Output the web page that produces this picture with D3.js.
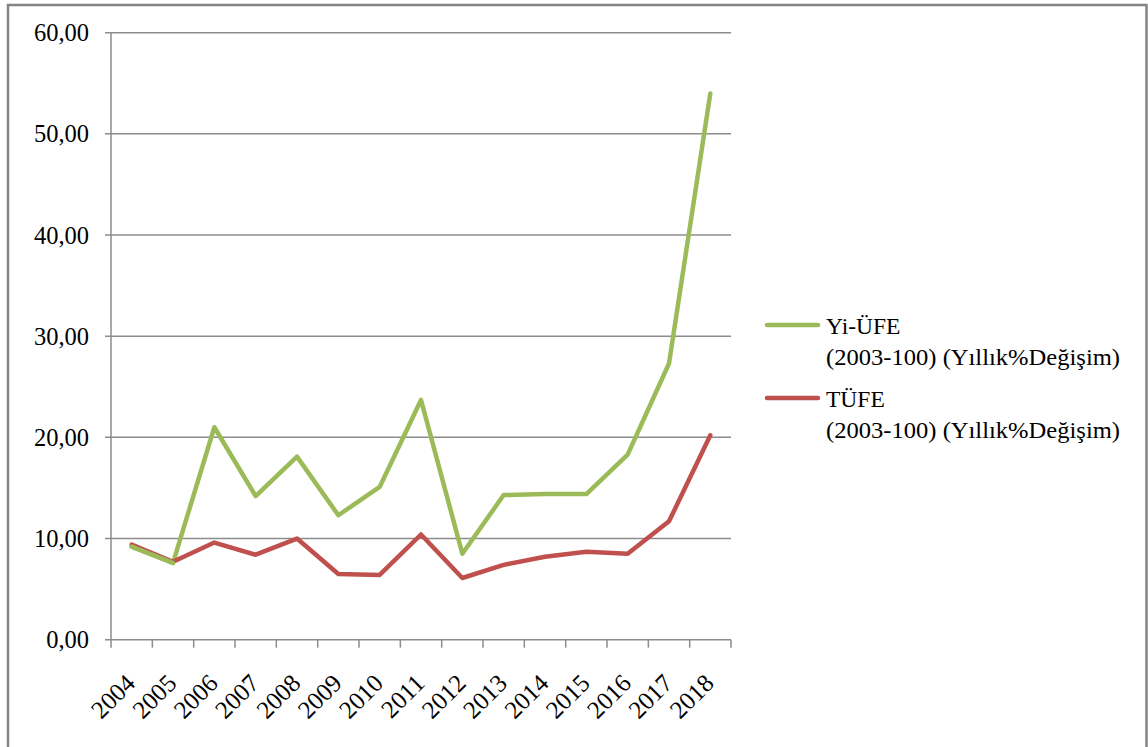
<!DOCTYPE html>
<html><head><meta charset="utf-8">
<script src="https://cdn.jsdelivr.net/npm/d3@7"></script>
<style>
body{margin:0;background:#fff}
svg{display:block}
text{font-family:"Liberation Serif","Times New Roman",serif;fill:#000}
</style>
</head><body>
<svg id="c" width="1148" height="747"></svg>
<script>
const years = ["2004","2005","2006","2007","2008","2009","2010","2011","2012","2013","2014","2015","2016","2017","2018"];
const yiUfe = [9.2,7.6,21.0,14.2,18.1,12.3,15.1,23.7,8.5,14.3,14.4,14.4,18.3,27.3,54.0];
const tufe  = [9.4,7.7,9.6,8.4,10.0,6.5,6.4,10.4,6.1,7.4,8.2,8.7,8.5,11.7,20.2];
const yTicks = [0,10,20,30,40,50,60];
const seriesNames = ["Yi-ÜFE","TÜFE"];
const legendSub = "(2003-100) (Yıllık%Değişim)";
const colors = ["#9bbb59","#c0504d"];

const svg = d3.select("#c");
const pL = 111, pR = 731, pT = 32.7, pB = 639.7;

// frame
svg.append("path")
  .attr("d", `M8,760 L8,5 L1146.5,5 L1146.5,760`)
  .attr("fill","none").attr("stroke","#858585").attr("stroke-width",2.5);

const x = d3.scaleBand().domain(years).range([pL,pR]).padding(0);
const y = d3.scaleLinear().domain([0,60]).range([pB,pT]);
const loc = d3.formatLocale({decimal:",",thousands:".",grouping:[3],currency:["",""]});
const fmt = loc.format(".2f");

// gridlines
svg.append("g").selectAll("line").data(yTicks).join("line")
  .attr("x1",pL-6).attr("x2",pR)
  .attr("y1",d=>y(d)).attr("y2",d=>y(d))
  .attr("stroke","#8c8c8c").attr("stroke-width",1.5);

// y axis line
svg.append("line").attr("x1",pL).attr("x2",pL).attr("y1",pT).attr("y2",pB)
  .attr("stroke","#8c8c8c").attr("stroke-width",1.5);

// y labels
svg.append("g").selectAll("text").data(yTicks).join("text")
  .attr("x",89).attr("y",d=>y(d)).attr("dy","0.35em")
  .attr("text-anchor","end").attr("font-size",24.5)
  .text(d=>fmt(d));

// x ticks
const bounds = years.map(d=>x(d)).concat([pR]);
svg.append("g").selectAll("line").data(bounds).join("line")
  .attr("x1",d=>d).attr("x2",d=>d).attr("y1",pB).attr("y2",pB+8)
  .attr("stroke","#8c8c8c").attr("stroke-width",1.5);

// x labels
svg.append("g").selectAll("text").data(years).join("text")
  .attr("transform",d=>`translate(${x(d)+x.bandwidth()/2+5},${pB+45}) rotate(-45)`)
  .attr("text-anchor","end").attr("font-size",25)
  .text(d=>d);

// lines
const line = d3.line().x((d,i)=>x(years[i])+x.bandwidth()/2).y(d=>y(d));
[yiUfe,tufe].forEach((s,i)=>{
  svg.append("path").datum(s).attr("d",line)
    .attr("fill","none").attr("stroke",colors[i]).attr("stroke-width",4.5)
    .attr("stroke-linejoin","round").attr("stroke-linecap","round");
});
svg.append("path").datum(yiUfe.slice(0,2)).attr("d",line)
  .attr("fill","none").attr("stroke",colors[0]).attr("stroke-width",4.5).attr("stroke-linecap","round");

// legend
const lg = svg.append("g");
const ly = [325,398];
seriesNames.forEach((n,i)=>{
  lg.append("line").attr("x1",767).attr("x2",818).attr("y1",ly[i]).attr("y2",ly[i])
    .attr("stroke",colors[i]).attr("stroke-width",4.5).attr("stroke-linecap","round");
  lg.append("text").attr("x",826).attr("y",ly[i]+9).attr("font-size",23.5).text(n);
  lg.append("text").attr("x",826).attr("y",ly[i]+40).attr("font-size",23.5)
    .attr("textLength",294).attr("lengthAdjust","spacingAndGlyphs").text(legendSub);
});
</script>
</body></html>
